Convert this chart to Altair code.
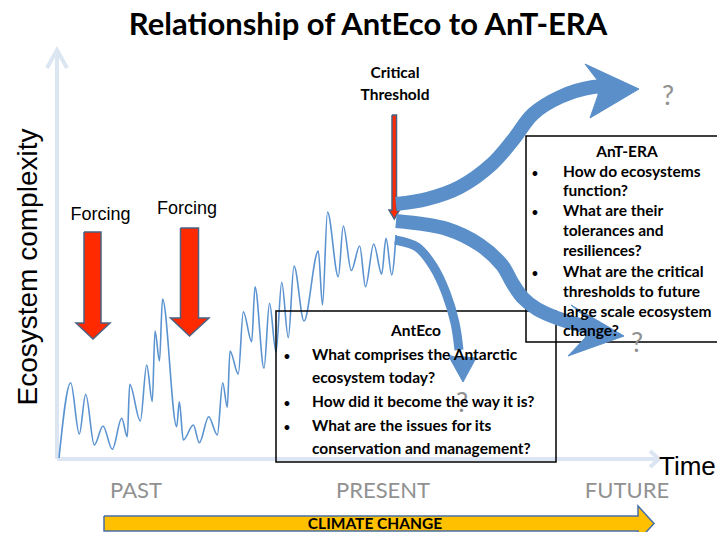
import altair as alt
import pandas as pd

# ---------------- data ----------------
# Ecosystem-complexity trajectory (time since origin, complexity above axis)
time = [2, 13.7, 22.3, 28.7, 37.3, 46, 55.3, 64.7, 70.3, 72.7, 83.3, 89.7, 95.3, 98, 102.5,
        105.5, 119.7, 122.3, 126.3, 136.3, 142.3, 151.7, 160.3, 165.7, 170.3, 173, 181.3,
        186.3, 194.7, 198, 207, 212.5, 219, 224.7, 231.3, 237, 247, 261.3, 265.5, 270.5,
        281.3, 286.3, 294.3, 302.7, 308.5, 316.7, 324.7, 329, 334.7, 339]
complexity = [1, 76.3, 25, 64.7, 14, 33, 9.7, 40.7, 22.3, 74.7, 38, 94, 57.5, 128, 98,
              160, 32.3, 57.3, 19, 34, 16.3, 42.3, 24, 76.3, 51.7, 108, 85,
              147.3, 117.3, 172.3, 90.7, 155.7, 107, 176.7, 121.3, 193, 138, 208, 154, 247,
              182.3, 233, 188.5, 213, 172.3, 215, 185, 220.7, 184, 224]

title_text = "Relationship of AntEco to AnT-ERA"
y_label = "Ecosystem complexity"
x_label = "Time"
era_labels = ["PAST", "PRESENT", "FUTURE"]
forcing_label = "Forcing"
threshold_lines = ["Critical", "Threshold"]
climate_label = "CLIMATE CHANGE"
anteco_title = "AntEco"
anteco_lines = ["What comprises the  Antarctic", "ecosystem today?",
                "How did it become the way it is?", "What are the issues for its",
                "conservation and management?"]
anteco_bullets = [True, False, True, True, False]
antera_title = "AnT-ERA"
antera_lines = ["How do ecosystems", "function?", "What are their", "tolerances and",
                "resiliences?", "What are the critical", "thresholds to future",
                "large scale ecosystem", "change?"]
antera_bullets = [True, False, True, False, False, True, False, False, False]

# ---------------- layout (picture positions) ----------------
def tc(px, py):
    return px - 57, 459 - py

def df_points(groups):
    rows = []
    for gid, pts in enumerate(groups):
        for o, (px, py) in enumerate(pts):
            t, c = tc(px, py)
            rows.append({"t": t, "c": c, "id": gid, "o": o})
    return pd.DataFrame(rows)

def df_text(items):
    rows = []
    for (px, py, txt) in items:
        t, c = tc(px, py)
        rows.append({"t": t, "c": c, "txt": txt})
    return pd.DataFrame(rows)

X = alt.X("t:Q", scale=alt.Scale(domain=[-49, 660], nice=False, zero=False), axis=None)
Y = alt.Y("c:Q", scale=alt.Scale(domain=[-73, 451], nice=False, zero=False), axis=None)

BLUE = "#5b8fc9"
AXIS = "#dce6f2"
GRAY = "#919191"

# axes with open arrow heads
axes_df = df_points([
    [(57, 459), (57, 50)],
    [(47, 68), (57, 50), (67, 68)],
    [(57, 459), (658, 459)],
    [(650, 451), (659, 459), (650, 467)],
])
axes = alt.Chart(axes_df).mark_line(stroke=AXIS, strokeWidth=4, strokeJoin="miter").encode(
    x=X, y=Y, detail="id:N", order="o:Q")

# trajectory
traj_df = pd.DataFrame({"t": time, "c": complexity})
traj = alt.Chart(traj_df).mark_line(stroke="#5b93d0", strokeWidth=1.6, interpolate="monotone").encode(
    x=X, y=Y)

# red forcing arrows + threshold arrow
red_df = df_points([
    [(84, 232), (101, 232), (101, 323), (110, 323), (93, 339), (76, 323), (84, 323), (84, 232)],
    [(180.5, 228), (198.5, 228), (198.5, 318), (209, 318), (189.5, 336), (170.5, 318), (180.5, 318), (180.5, 228)],
    [(392, 115), (396.5, 115), (396.5, 210), (399.5, 210), (394.3, 219), (389, 210), (392, 210), (392, 115)],
])
red = alt.Chart(red_df).mark_line(fill="#ff2a00", stroke="#4a6284", strokeWidth=1.5,
                                  strokeJoin="miter").encode(x=X, y=Y, detail="id:N", order="o:Q")

# boxes
box_rows = []
for (x0, y0, x1, y1) in [(276, 311, 556, 462), (526, 136, 723, 342)]:
    t0, c0 = tc(x0, y0)
    t1, c1 = tc(x1, y1)
    box_rows.append({"t": t0, "c": c0, "t2": t1, "c2": c1})
boxes = alt.Chart(pd.DataFrame(box_rows)).mark_rect(fillOpacity=0, stroke="black", strokeWidth=1.5).encode(
    x=X, y=Y, x2="t2:Q", y2="c2:Q")

# blue curved arrows
body_wide = df_points([
    [(396, 204), (427, 199), (460, 187), (492, 164), (513, 140), (533, 114), (560, 97), (593, 87), (606, 87)],
    [(396, 221), (447, 229), (480, 245), (502, 265), (513, 284), (523, 298), (537, 309), (557, 318), (580, 325), (598, 329)],
])
body_thin = df_points([
    [(395, 240), (417, 247), (433, 266), (446, 293), (455, 323), (459, 350)],
])
wide = alt.Chart(body_wide).mark_line(stroke=BLUE, strokeWidth=14, interpolate="catmull-rom",
                                      strokeCap="butt").encode(x=X, y=Y, detail="id:N", order="o:Q")
thin = alt.Chart(body_thin).mark_line(stroke=BLUE, strokeWidth=9, interpolate="catmull-rom",
                                      strokeCap="butt").encode(x=X, y=Y, detail="id:N", order="o:Q")
heads_df = df_points([
    [(639, 89), (585, 64), (598, 81), (598, 95), (590, 118), (639, 89)],
    [(624, 336), (571, 305), (590, 321), (585, 338), (568, 356), (624, 336)],
    [(463, 382), (448, 355), (455, 357), (464, 357), (476, 358), (463, 382)],
])
heads = alt.Chart(heads_df).mark_line(fill=BLUE, stroke=BLUE, strokeWidth=1, strokeJoin="round").encode(
    x=X, y=Y, detail="id:N", order="o:Q")

# climate change arrow
yellow_df = df_points([
    [(104, 516), (638, 516), (638, 506), (654, 523.5), (638, 541), (638, 531), (104, 531), (104, 516)],
])
yellow = alt.Chart(yellow_df).mark_line(fill="#ffc000", stroke="#4a6fa5", strokeWidth=1.5,
                                        strokeJoin="miter").encode(x=X, y=Y, detail="id:N", order="o:Q")

# ---------------- texts ----------------
def text_layer(items, **kw):
    return alt.Chart(df_text(items)).mark_text(**kw).encode(x=X, y=Y, text="txt:N")

title = text_layer([(368, 35, title_text)], font="Lato", fontWeight="bold", fontSize=31,
                   align="center", baseline="alphabetic", color="black")
ylab = text_layer([(37, 267, y_label)], font="Liberation Sans", fontSize=28, angle=270,
                  align="center", baseline="alphabetic", color="black")
xlab = text_layer([(659, 475, x_label)], font="Liberation Sans", fontSize=26,
                  align="left", baseline="alphabetic", color="black")
forcing = text_layer([(100.5, 220, forcing_label), (187, 214, forcing_label)], font="Liberation Sans",
                     fontSize=18, align="center", baseline="alphabetic", color="black")
thresh = text_layer([(395, 78, threshold_lines[0]), (395, 100, threshold_lines[1])], font="Lato",
                    fontWeight="bold", fontSize=15.5, align="center", baseline="alphabetic", color="black")
eras = text_layer([(136, 498, era_labels[0]), (383, 498, era_labels[1]), (627, 498, era_labels[2])],
                  font="Lato", fontSize=22, align="center", baseline="alphabetic", color=GRAY)
climate = text_layer([(375, 529, climate_label)], font="Lato", fontWeight="bold", fontSize=15.5,
                     align="center", baseline="alphabetic", color="black")
qmarks = text_layer([(668, 105, "?"), (637, 352, "?"), (462, 412, "?")], font="Lato", fontSize=27,
                    align="center", baseline="alphabetic", color=GRAY)

anteco_base = [359.5, 383, 407, 430.5, 454]
antera_base = [177, 196, 216, 236, 255.5, 276.5, 296.5, 316.5, 335.5]
box_heads = text_layer([(416, 336, anteco_title), (627, 157, antera_title)], font="Lato",
                       fontWeight="bold", fontSize=15.5, align="center", baseline="alphabetic", color="black")
box_items = [(312, b, s) for b, s in zip(anteco_base, anteco_lines)] + \
            [(563, b, s) for b, s in zip(antera_base, antera_lines)]
box_text = text_layer(box_items, font="Lato", fontWeight="bold", fontSize=15.5,
                      align="left", baseline="alphabetic", color="black")
bullet_items = [(287, b, "•") for b, f in zip(anteco_base, anteco_bullets) if f] + \
               [(535, b, "•") for b, f in zip(antera_base, antera_bullets) if f]
bullets = text_layer(bullet_items, font="Lato", fontWeight="bold", fontSize=11,
                     align="center", baseline="alphabetic", color="black")

chart = alt.layer(
    axes, traj, red, boxes, wide, thin, heads, yellow,
    title, ylab, xlab, forcing, thresh, eras, climate, qmarks, box_heads, box_text, bullets
).properties(
    width=709, height=524, padding=0, autosize="none", background="white"
).configure_view(strokeWidth=0)

chart.save("out.html", embed_options={"renderer": "svg", "actions": False})
